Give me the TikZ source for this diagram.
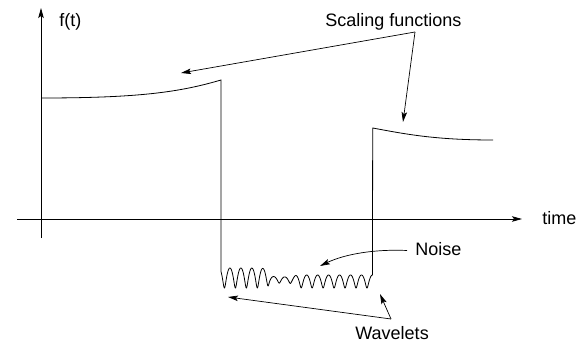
\documentclass[tikz,border=0pt]{standalone}
\usepackage{fontspec}
\setmainfont{Liberation Sans}
\usetikzlibrary{arrows.meta}
\begin{document}
\begin{tikzpicture}[x=1pt,y=-1pt,line width=0.8pt,
  lbl/.style={font=\fontsize{18}{21}\selectfont,inner sep=0pt,anchor=base west},
  pointer/.style={line width=0.7pt,-{Stealth[length=10pt,width=5.5pt,inset=2pt]}},
  declare function={sg(\z)=0.5+0.5*\z/sqrt(1+\z*\z);
    early(\s)=1-sg((\s-48)/2.5);
    mid(\s)=sg((\s-48)/2.5)-sg((\s-74)/2.5);
    amp(\s)=6.5+3.5*early(\s)-3.5*mid(\s);
    ctr(\s)=281.5-3.5*early(\s)-1.5*mid(\s);}]
  \useasboundingbox (0,0) rectangle (576,342);
  \coordinate (xfrom) at (17,219);
  \coordinate (xto) at (522,219);
  \coordinate (yfrom) at (41,238);
  \coordinate (yto) at (41,8);
  \draw[pointer] (xfrom) -- (xto);
  \draw[pointer] (yfrom) -- (yto);
  \node[lbl] (flabel) at (59,27) {f(t)};
  \node[lbl] (timelabel) at (542,225) {time};
  \node[lbl] (sclabel) at (325,26.5) {Scaling functions};
  \node[lbl] (noiselabel) at (415,255.5) {Noise};
  \node[lbl] (wavlabel) at (355,339.5) {Wavelets};
  \coordinate (start) at (41,98);
  \coordinate (jumpa) at (221,80);
  \coordinate (jumpb) at (372.7,128);
  \coordinate (finish) at (493,140);
  \draw (start) .. controls (140,98) and (180,92) .. (jumpa) -- (221,271.6)
    -- plot[domain=0:152,samples=500]
      ({221+\x+0.7*(cos(32.83*\x-40)-cos(40))},{ctr(\x)+amp(\x)*sin(32.83*\x-40)})
    -- (jumpb) .. controls (405,134) and (435,140) .. (finish);
  \coordinate (scsrc) at (415,32);
  \coordinate (sctipa) at (181,73);
  \coordinate (sctipb) at (403,122);
  \draw[pointer] (scsrc) -- (sctipa);
  \draw[pointer] (scsrc) -- (sctipb);
  \coordinate (noisetip) at (320,266);
  \draw[pointer] ([xshift=-8pt,yshift=5pt]noiselabel.base west) .. controls (375,249) and (345,254) .. (noisetip);
  \coordinate (wvsrc) at (391,319);
  \coordinate (wvtipa) at (228,297);
  \coordinate (wvtipb) at (380,294);
  \draw[pointer] (wvsrc) -- (wvtipa);
  \draw[pointer] (wvsrc) -- (wvtipb);
\end{tikzpicture}
\end{document}
